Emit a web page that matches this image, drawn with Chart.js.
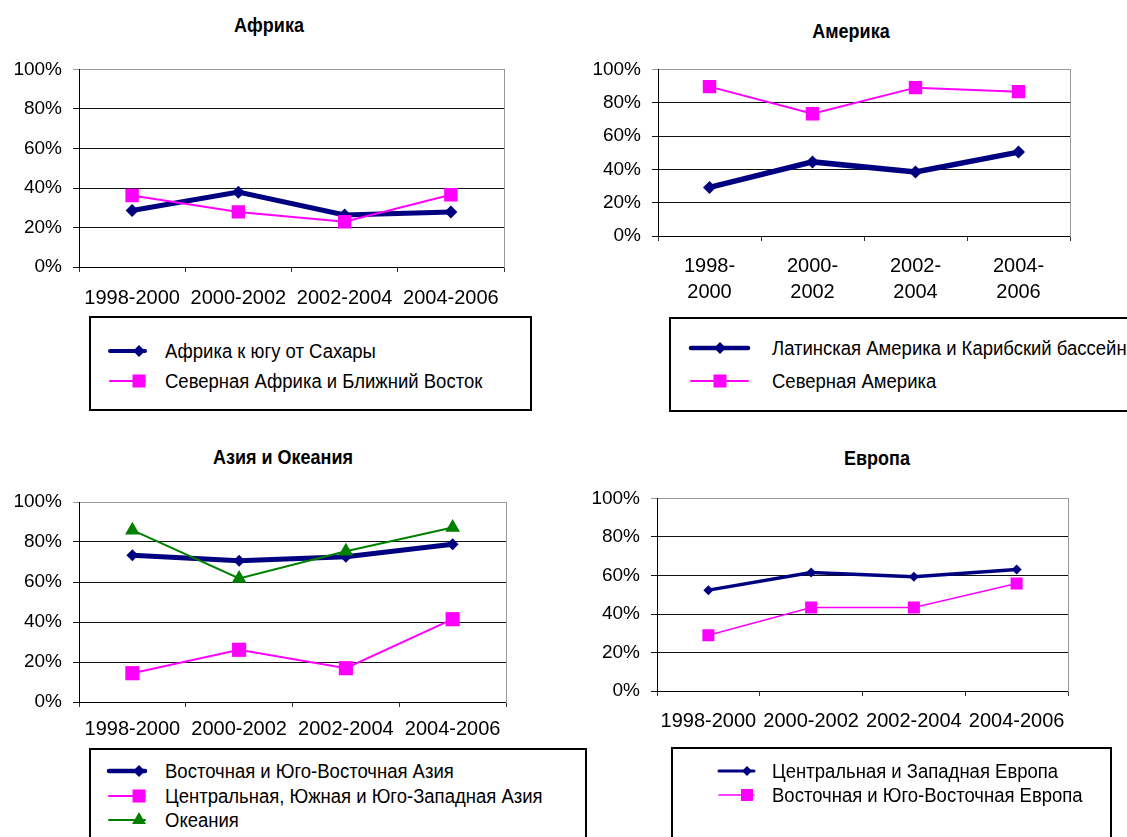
<!DOCTYPE html>
<html lang="ru">
<head>
<meta charset="utf-8">
<title>Регионы</title>
<script src="https://cdn.jsdelivr.net/npm/chart.js@4.4.0/dist/chart.umd.min.js"></script>
<style>
    body { margin: 0; background: #fff; font-family: 'Liberation Sans', Arial, sans-serif; color: #000; }
    #page { position: relative; width: 1127px; height: 837px; overflow: hidden; }
    .title { position: absolute; font-weight: bold; font-size: 18px; transform: translate(-50%, -50%) scaleY(1.1); white-space: nowrap; }
    .chart { position: absolute; }
    .legend { position: absolute; border: 2px solid #000; box-sizing: border-box; background: #fff; }
    .legend svg { position: absolute; }
    .legend span { position: absolute; font-size: 18.5px; line-height: 24px; white-space: nowrap; transform: scaleY(1.12); }
</style>
</head>
<body>
<div id="page">
    <div class="title" style="left:269px; top:26px;">Африка</div>
    <div class="title" style="left:851px; top:32px;">Америка</div>
    <div class="title" style="left:283px; top:458px;">Азия и Океания</div>
    <div class="title" style="left:877px; top:459px;">Европа</div>

    <canvas class="chart" id="africaChart" width="520" height="260" style="left:0px; top:60px;"></canvas>
    <canvas class="chart" id="americaChart" width="547" height="250" style="left:580px; top:60px;"></canvas>
    <canvas class="chart" id="asiaChart" width="530" height="260" style="left:0px; top:490px;"></canvas>
    <canvas class="chart" id="europeChart" width="547" height="250" style="left:580px; top:490px;"></canvas>

    <div class="legend" id="africaLegend" style="left:89px; top:316px; width:443px; height:95px;"></div>
    <div class="legend" id="americaLegend" style="left:669px; top:317px; width:480px; height:95px;"></div>
    <div class="legend" id="asiaLegend" style="left:89px; top:748px; width:498px; height:120px;"></div>
    <div class="legend" id="europeLegend" style="left:671px; top:747px; width:441px; height:120px;"></div>
</div>

<script>
// Периоды (категории)
const periods = ['1998-2000', '2000-2002', '2002-2004', '2004-2006'];
const periodsTwoLines = [['1998-', '2000'], ['2000-', '2002'], ['2002-', '2004'], ['2004-', '2006']];
const percentTicks = [0, 20, 40, 60, 80, 100];

// Африка
const africaSubSaharaLabel = 'Африка к югу от Сахары';
const africaSubSahara = [28.6, 37.9, 26.3, 27.8];
const africaNorthLabel = 'Северная Африка и Ближний Восток';
const africaNorth = [36.2, 27.9, 22.9, 36.6];

// Америка
const americaLatinLabel = 'Латинская Америка и Карибский бассейн';
const americaLatin = [29.2, 44.5, 38.5, 50.4];
const americaNorthLabel = 'Северная Америка';
const americaNorth = [89.7, 73.4, 89.1, 86.7];

// Азия и Океания
const asiaEastLabel = 'Восточная и Юго-Восточная Азия';
const asiaEast = [73.4, 70.6, 72.6, 78.9];
const asiaCentralLabel = 'Центральная, Южная и Юго-Западная Азия';
const asiaCentral = [14.4, 26.1, 16.9, 41.4];
const oceaniaLabel = 'Океания';
const oceania = [85.9, 61.8, 75.4, 87.2];

// Европа
const europeWestLabel = 'Центральная и Западная Европа';
const europeWest = [52.4, 61.6, 59.3, 63.1];
const europeEastLabel = 'Восточная и Юго-Восточная Европа';
const europeEast = [29.0, 43.4, 43.4, 55.8];

const NAVY = '#000080';
const MAGENTA = '#ff00ff';
const GREEN = '#008000';

const serie = (label, data, color, width, marker, radius, order) => ({
    label: label,
    data: data,
    borderColor: color,
    backgroundColor: color,
    borderWidth: width,
    pointStyle: marker,
    pointRadius: radius,
    pointHoverRadius: radius,
    pointBorderWidth: 0,
    tension: 0,
    order: order
});

const noPadding = s => {
    s.paddingTop = 0;
    s.paddingBottom = 0;
    s.paddingLeft = 0;
    s.paddingRight = 0;
};

// Gráfico com área de plotagem fixa
const makeChart = (id, labels, datasets, box) => {
    new Chart(document.getElementById(id), {
        type: 'line',
        data: { labels: labels, datasets: datasets },
        options: {
            responsive: false,
            animation: false,
            devicePixelRatio: 1,
            layout: { padding: { top: box.padTop, right: box.padRight, left: 0, bottom: 0 } },
            plugins: { legend: { display: false }, tooltip: { enabled: false }, title: { display: false } },
            scales: {
                x: {
                    offset: true,
                    grid: { offset: true, drawOnChartArea: false, drawTicks: true, tickLength: 5, color: '#333' },
                    border: { color: '#000', width: 1 },
                    ticks: {
                        color: '#000', padding: box.xPad, maxRotation: 0, autoSkip: false,
                        font: { family: "'Liberation Sans', Arial, sans-serif", size: 20, lineHeight: 1.33 }
                    },
                    afterFit: s => { s.height = box.xHeight; noPadding(s); }
                },
                y: {
                    min: 0, max: 100,
                    afterBuildTicks: s => { s.ticks = percentTicks.map(v => ({ value: v })); },
                    grid: {
                        color: ctx => (ctx.tick && ctx.tick.value === 100 ? '#9a9a9a' : '#111'),
                        lineWidth: 1, tickLength: 6
                    },
                    border: { color: '#000', width: 1 },
                    ticks: {
                        color: '#000', padding: 11,
                        font: { family: "'Liberation Sans', Arial, sans-serif", size: 19 },
                        callback: v => v + '%'
                    },
                    afterFit: s => { s.width = box.yWidth; noPadding(s); }
                },
                yRight: {
                    position: 'right', min: 0, max: 100,
                    grid: { drawOnChartArea: false, drawTicks: false },
                    border: { color: '#9a9a9a', width: 1 },
                    ticks: { display: false },
                    afterFit: s => { s.width = 0; noPadding(s); }
                }
            }
        }
    });
};

makeChart('africaChart', periods, [
    serie(africaSubSaharaLabel, africaSubSahara, NAVY, 5, 'rectRot', 6.5, 2),
    serie(africaNorthLabel, africaNorth, MAGENTA, 2, 'rect', 9.5, 1)
], { yWidth: 79, xHeight: 53, padTop: 6, padRight: 16, xPad: 13 });

makeChart('americaChart', periodsTwoLines, [
    serie(americaLatinLabel, americaLatin, NAVY, 5.5, 'rectRot', 6.5, 2),
    serie(americaNorthLabel, americaNorth, MAGENTA, 2, 'rect', 9.5, 1)
], { yWidth: 78, xHeight: 74, padTop: 8, padRight: 57, xPad: 12 });

makeChart('asiaChart', periods, [
    serie(asiaEastLabel, asiaEast, NAVY, 5, 'rectRot', 6, 3),
    serie(asiaCentralLabel, asiaCentral, MAGENTA, 2, 'rect', 10, 1),
    serie(oceaniaLabel, oceania, GREEN, 2, 'triangle', 8.5, 2)
], { yWidth: 79, xHeight: 48, padTop: 12, padRight: 24, xPad: 9 });

makeChart('europeChart', periods, [
    serie(europeWestLabel, europeWest, NAVY, 3.5, 'rectRot', 5, 2),
    serie(europeEastLabel, europeEast, MAGENTA, 1.5, 'rect', 8.5, 1)
], { yWidth: 77, xHeight: 49, padTop: 8, padRight: 59, xPad: 12 });

// Legendas em HTML (linha + marcador)
const markerSvg = (marker, cx, cy, size, color) => {
    if (marker === 'rectRot') {
        return `<polygon points="${cx},${cy - size} ${cx + size},${cy} ${cx},${cy + size} ${cx - size},${cy}" fill="${color}"/>`;
    }
    if (marker === 'rect') {
        return `<rect x="${cx - size}" y="${cy - size}" width="${2 * size}" height="${2 * size}" fill="${color}"/>`;
    }
    const h = size * 0.866;
    return `<polygon points="${cx},${cy - size} ${cx + h},${cy + size / 2} ${cx - h},${cy + size / 2}" fill="${color}"/>`;
};

const makeLegend = (id, items, geo) => {
    const el = document.getElementById(id);
    let html = '';
    items.forEach((it, i) => {
        const cy = geo.rows[i];
        const w = geo.symEnd + 4;
        let svg = `<svg width="${w}" height="24" style="left:0; top:${cy - 12}px;">`;
        svg += `<line x1="${geo.symStart}" y1="12" x2="${geo.symEnd}" y2="12" stroke="${it.color}" stroke-width="${it.width}" stroke-linecap="round"/>`;
        svg += markerSvg(it.marker, geo.markerX, 12, it.size, it.color);
        if (geo.bar) {
            svg += `<line x1="${geo.bar}" y1="13" x2="${geo.bar}" y2="23" stroke="#000" stroke-width="1"/>`;
        }
        svg += '</svg>';
        html += svg + `<span style="left:${geo.textX}px; top:${cy - 12}px;">${it.label}</span>`;
    });
    el.innerHTML = html;
};

makeLegend('africaLegend', [
    { label: africaSubSaharaLabel, color: NAVY, width: 4, marker: 'rectRot', size: 6 },
    { label: africaNorthLabel, color: MAGENTA, width: 2, marker: 'rect', size: 6.5 }
], { rows: [33, 63], symStart: 19, symEnd: 54, markerX: 48, textX: 74 });

makeLegend('americaLegend', [
    { label: americaLatinLabel, color: NAVY, width: 4.5, marker: 'rectRot', size: 6 },
    { label: americaNorthLabel, color: MAGENTA, width: 2, marker: 'rect', size: 6.5 }
], { rows: [29, 62], symStart: 20, symEnd: 77, markerX: 49, textX: 101, bar: 83 });

makeLegend('asiaLegend', [
    { label: asiaEastLabel, color: NAVY, width: 4.5, marker: 'rectRot', size: 6 },
    { label: asiaCentralLabel, color: MAGENTA, width: 2, marker: 'rect', size: 6.5 },
    { label: oceaniaLabel, color: GREEN, width: 2, marker: 'triangle', size: 8 }
], { rows: [21, 46, 70], symStart: 18, symEnd: 54, markerX: 48, textX: 74 });

makeLegend('europeLegend', [
    { label: europeWestLabel, color: NAVY, width: 3, marker: 'rectRot', size: 5 },
    { label: europeEastLabel, color: MAGENTA, width: 1.5, marker: 'rect', size: 6 }
], { rows: [22, 46], symStart: 46, symEnd: 81, markerX: 74, textX: 99 });
</script>
</body>
</html>
